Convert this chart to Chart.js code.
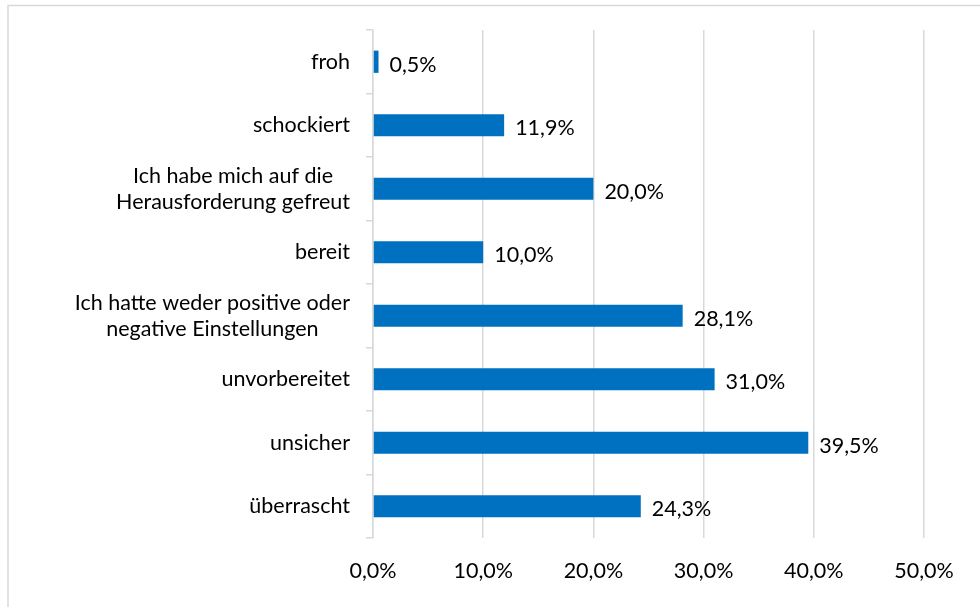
<!DOCTYPE html>
<html>
<head>
<meta charset="utf-8">
<script src="https://cdn.jsdelivr.net/npm/chart.js@4/dist/chart.umd.min.js"></script>
<style>
  html, body { margin: 0; padding: 0; background: #fff; }
  #wrap { width: 980px; height: 607px; position: relative; }
</style>
</head>
<body>
<div id="wrap"><canvas id="myChart"></canvas></div>
<script>
// Kategorien (von oben nach unten) und Werte in Prozent
const categories = [
  ['froh'],
  ['schockiert'],
  ['Ich habe mich auf die', 'Herausforderung gefreut'],
  ['bereit'],
  ['Ich hatte weder positive oder', 'negative Einstellungen'],
  ['unvorbereitet'],
  ['unsicher'],
  ['überrascht']
];
const values = [0.5, 11.9, 20.0, 10.0, 28.1, 31.0, 39.5, 24.3];
const xTicks = [0, 10, 20, 30, 40, 50];

const FONT = 'Lato, "Open Sans", sans-serif';
const FSIZE = 21.5;
const fmt = v => v.toFixed(1).replace('.', ',') + '%';

// Rahmen, Kategorien-Beschriftung und Werte zeichnen
const labelPlugin = {
  id: 'labels',
  beforeDraw(chart) {
    const ctx = chart.ctx;
    ctx.save();
    ctx.strokeStyle = '#d9d9d9';
    ctx.lineWidth = 1.5;
    ctx.strokeRect(8, 5.5, 990, 700);
    ctx.restore();
  },
  afterDatasetsDraw(chart) {
    const ctx = chart.ctx;
    const yScale = chart.scales.y;
    const meta = chart.getDatasetMeta(0);
    ctx.save();
    ctx.font = FSIZE + 'px ' + FONT;
    ctx.fillStyle = '#000';
    ctx.textBaseline = 'middle';
    const lineH = 26;
    categories.forEach((lines, i) => {
      const cy = yScale.getPixelForValue(i);
      const w = Math.max(...lines.map(l => ctx.measureText(l).width));
      const cx = 350 - w / 2;
      ctx.textAlign = 'center';
      lines.forEach((l, j) => {
        const y = cy + (j - (lines.length - 1) / 2) * lineH;
        ctx.fillText(l, cx, y);
      });
    });
    ctx.textAlign = 'left';
    meta.data.forEach((bar, i) => {
      ctx.fillText(fmt(values[i]), bar.x + 11, bar.y + 3);
    });
    ctx.restore();
  }
};

new Chart('myChart', {
  type: 'bar',
  data: {
    labels: categories.map(c => c.join(' ')),
    datasets: [{
      data: values,
      backgroundColor: '#0070C0',
      borderWidth: 0,
      barPercentage: 0.35,
      categoryPercentage: 1.0
    }]
  },
  options: {
    indexAxis: 'y',
    responsive: true,
    maintainAspectRatio: false,
    animation: false,
    layout: { padding: { top: 30, right: 56, bottom: 0, left: 0 } },
    plugins: {
      legend: { display: false },
      tooltip: { enabled: false }
    },
    scales: {
      x: {
        min: 0,
        max: 50,
        afterBuildTicks: scale => { scale.ticks = xTicks.map(v => ({ value: v })); },
        afterFit: scale => { scale.height = 69; },
        grid: { color: '#d9d9d9', lineWidth: 1.5, drawTicks: false },
        border: { display: false },
        ticks: {
          padding: 20,
          color: '#000',
          font: { family: FONT, size: FSIZE },
          callback: v => fmt(v),
          maxRotation: 0
        }
      },
      y: {
        afterFit: scale => { scale.width = 373; },
        grid: { drawOnChartArea: false, color: '#d9d9d9', lineWidth: 1.5, tickLength: 7, offset: true },
        border: { color: '#d9d9d9', width: 1.5 },
        ticks: { display: false }
      }
    }
  },
  plugins: [labelPlugin]
});
</script>
</body>
</html>
